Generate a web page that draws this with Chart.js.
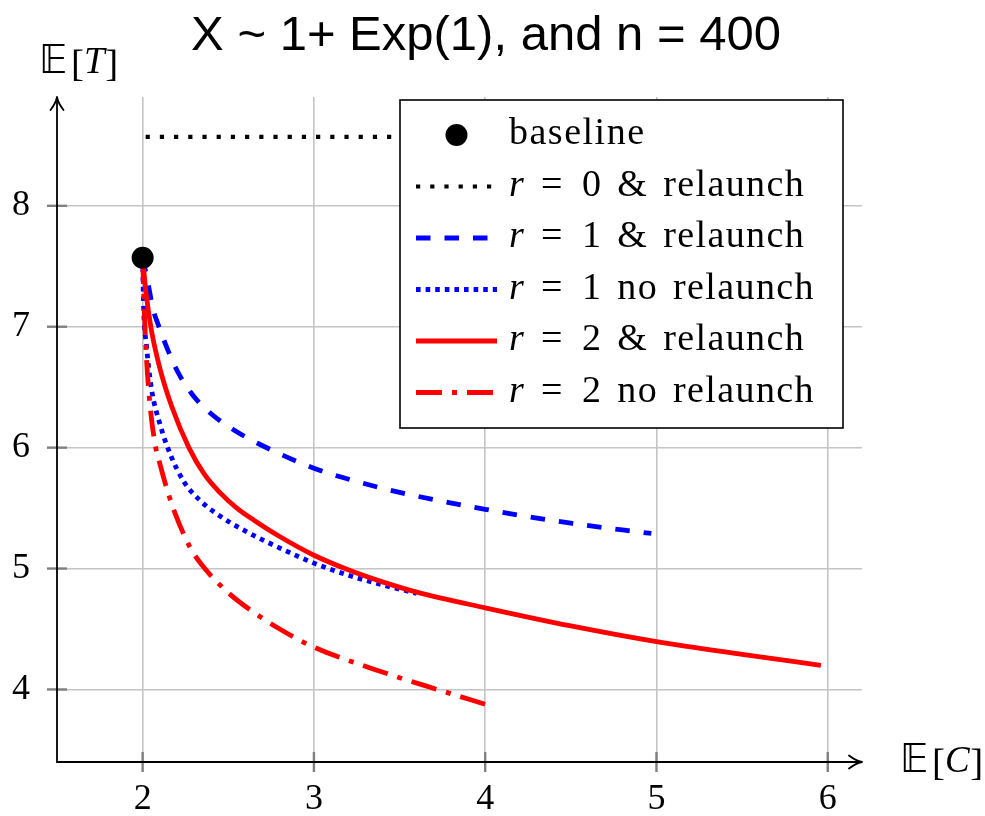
<!DOCTYPE html>
<html>
<head>
<meta charset="utf-8">
<script src="https://cdn.jsdelivr.net/npm/chart.js@4.4.1/dist/chart.umd.min.js"></script>
<style>
  html, body { margin: 0; padding: 0; background: #ffffff; }
  #wrap { width: 985px; height: 816px; position: relative; }
</style>
</head>
<body>
<div id="wrap"><canvas id="chart"></canvas></div>
<script>
// ---- data ----
const chartTitle = 'X ~ 1+ Exp(1), and n = 400';
const xTicks = [2, 3, 4, 5, 6];
const yTicks = [4, 5, 6, 7, 8];

const baselineX = [2];
const baselineY = [7.57];

// r = 0 & relaunch
const r0RelaunchX = [2, 4];
const r0RelaunchY = [8.57, 8.57];

// r = 1 & relaunch
const r1RelaunchX = [2.0, 2.03, 2.06, 2.09, 2.135, 2.2, 2.29, 2.40, 2.54, 2.68, 3.0, 3.25, 3.5, 4.0, 4.5, 4.97];
const r1RelaunchY = [7.57, 7.37, 7.15, 7.02, 6.85, 6.64, 6.44, 6.28, 6.14, 6.03, 5.83, 5.72, 5.63, 5.49, 5.375, 5.29];

// r = 1 no relaunch
const r1NoRelaunchX = [2.0, 2.006, 2.022, 2.05, 2.1, 2.16, 2.24, 2.33, 2.43, 2.6, 2.8, 3.0, 3.2, 3.4, 3.6];
const r1NoRelaunchY = [7.57, 7.15, 6.85, 6.5, 6.2, 5.95, 5.72, 5.57, 5.455, 5.31, 5.17, 5.045, 4.945, 4.865, 4.795];

// r = 2 & relaunch
const r2RelaunchX = [2.0, 2.02, 2.05, 2.1, 2.17, 2.27, 2.36, 2.45, 2.55, 2.65, 2.8, 3.0, 3.2, 3.4, 3.6, 4.0, 4.5, 5.0, 5.5, 5.96];
const r2RelaunchY = [7.57, 7.28, 6.98, 6.66, 6.34, 6.0, 5.78, 5.63, 5.5, 5.40, 5.265, 5.11, 4.99, 4.89, 4.805, 4.675, 4.525, 4.395, 4.29, 4.2];

// r = 2 no relaunch
const r2NoRelaunchX = [2.0, 2.008, 2.02, 2.04, 2.07, 2.10, 2.15, 2.19, 2.276, 2.363, 2.5, 2.626, 2.8, 3.0, 3.345, 3.72, 4.006];
const r2NoRelaunchY = [7.57, 7.2, 6.8, 6.4, 6.05, 5.87, 5.62, 5.455, 5.178, 5.0, 4.8, 4.66, 4.5, 4.35, 4.17, 4.0, 3.875];

const seriesLabels = ['baseline', 'r = 0 & relaunch', 'r = 1 & relaunch', 'r = 1 no relaunch', 'r = 2 & relaunch', 'r = 2 no relaunch'];

const toPoints = (xs, ys) => xs.map((x, i) => ({ x, y: ys[i] }));

const BLUE = '#0000ff';
const RED = '#ff0000';
const LW = 4.8;

const lineDefaults = {
  showLine: true,
  pointRadius: 0,
  pointHoverRadius: 0,
  borderWidth: LW,
  borderCapStyle: 'butt',
  borderJoinStyle: 'round',
  cubicInterpolationMode: 'monotone',
  fill: false
};

const datasets = [
  { label: seriesLabels[0], data: toPoints(baselineX, baselineY), showLine: false,
    pointRadius: 11, pointHoverRadius: 11, backgroundColor: '#000', borderColor: '#000', borderWidth: 0, order: 0 },
  { ...lineDefaults, label: seriesLabels[1], data: toPoints(r0RelaunchX, r0RelaunchY),
    borderColor: '#000', borderWidth: 4.2, borderDash: [4.2, 10], borderDashOffset: -3, order: 6 },
  { ...lineDefaults, label: seriesLabels[2], data: toPoints(r1RelaunchX, r1RelaunchY),
    borderColor: BLUE, borderDash: [14.5, 14], order: 5 },
  { ...lineDefaults, label: seriesLabels[3], data: toPoints(r1NoRelaunchX, r1NoRelaunchY),
    borderColor: BLUE, borderDash: [4.6, 5], order: 4 },
  { ...lineDefaults, label: seriesLabels[4], data: toPoints(r2RelaunchX, r2RelaunchY),
    borderColor: RED, order: 3 },
  { ...lineDefaults, label: seriesLabels[5], data: toPoints(r2NoRelaunchX, r2NoRelaunchY),
    borderColor: RED, borderDash: [26, 10, 5, 10], order: 2 }
];

const SERIF = '"Liberation Serif", "DejaVu Serif", serif';
const MATHBB = '"DejaVu Sans", "DejaVu Serif", "Noto Sans", sans-serif';

// draws "𝔼 [ v ]" with an italic variable
function drawExpectation(ctx, v, x, baseline, size) {
  ctx.save();
  ctx.fillStyle = '#000';
  ctx.textBaseline = 'alphabetic';
  ctx.textAlign = 'left';
  ctx.font = `${size * 1.05}px ${MATHBB}`;
  ctx.fillText('𝔼', x, baseline);
  let cx = x + ctx.measureText('𝔼').width + size * 0.1;
  ctx.font = `${size * 1.05}px ${SERIF}`;
  ctx.fillText('[', cx, baseline + size * 0.07);
  cx += ctx.measureText('[').width;
  ctx.font = `italic ${size}px ${SERIF}`;
  ctx.fillText(v, cx, baseline);
  cx += ctx.measureText(v).width + size * 0.02;
  ctx.font = `${size * 1.05}px ${SERIF}`;
  ctx.fillText(']', cx, baseline + size * 0.07);
  ctx.restore();
}

function arrowHead(ctx, tipX, tipY, dir) {
  const back = 13, half = 6.5;
  ctx.beginPath();
  if (dir === 'up') {
    ctx.moveTo(tipX - half, tipY + back);
    ctx.quadraticCurveTo(tipX - 1, tipY + back * 0.45, tipX, tipY);
    ctx.quadraticCurveTo(tipX + 1, tipY + back * 0.45, tipX + half, tipY + back);
  } else {
    ctx.moveTo(tipX - back, tipY - half);
    ctx.quadraticCurveTo(tipX - back * 0.45, tipY - 1, tipX, tipY);
    ctx.quadraticCurveTo(tipX - back * 0.45, tipY + 1, tipX - back, tipY + half);
  }
  ctx.stroke();
}

const axesPlugin = {
  id: 'arrowAxes',
  beforeDatasetsDraw(chart) {
    const { ctx, chartArea: a, scales } = chart;
    ctx.save();
    // tick marks
    ctx.strokeStyle = '#808080';
    ctx.lineWidth = 2.4;
    xTicks.forEach(v => {
      const px = scales.x.getPixelForValue(v);
      ctx.beginPath(); ctx.moveTo(px, a.bottom - 10); ctx.lineTo(px, a.bottom + 10); ctx.stroke();
    });
    yTicks.forEach(v => {
      const py = scales.y.getPixelForValue(v);
      ctx.beginPath(); ctx.moveTo(a.left - 10, py); ctx.lineTo(a.left + 10, py); ctx.stroke();
    });
    // axis lines with arrows
    ctx.strokeStyle = '#000';
    ctx.lineWidth = 1.8;
    ctx.lineCap = 'butt';
    ctx.beginPath();
    ctx.moveTo(a.left, a.top + 1);
    ctx.lineTo(a.left, a.bottom);
    ctx.lineTo(a.right - 1, a.bottom);
    ctx.stroke();
    ctx.lineJoin = 'round';
    ctx.lineCap = 'round';
    arrowHead(ctx, a.left, a.top, 'up');
    arrowHead(ctx, a.right, a.bottom, 'right');
    ctx.restore();
  },
  afterDraw(chart) {
    const { ctx } = chart;
    ctx.save();
    // title
    ctx.fillStyle = '#000';
    ctx.font = '49px "Liberation Sans", Arial, sans-serif';
    ctx.textAlign = 'center';
    ctx.textBaseline = 'alphabetic';
    ctx.fillText(chartTitle, 486, 50);
    // axis labels
    drawExpectation(ctx, 'T', 39, 73, 37);
    drawExpectation(ctx, 'C', 900, 772, 37);

    // legend box
    const box = { left: 400, top: 100, right: 843, bottom: 428 };
    ctx.fillStyle = '#fff';
    ctx.fillRect(box.left, box.top, box.right - box.left, box.bottom - box.top);
    ctx.strokeStyle = '#000';
    ctx.lineWidth = 1.6;
    ctx.strokeRect(box.left, box.top, box.right - box.left, box.bottom - box.top);

    const rowY0 = 135, rowStep = 51.5;
    const sampleL = 416, sampleR = 497, textX = 509;
    datasets.forEach((ds, i) => {
      const y = rowY0 + i * rowStep;
      if (i === 0) {
        ctx.beginPath();
        ctx.fillStyle = '#000';
        ctx.arc((sampleL + sampleR) / 2, y, 11, 0, Math.PI * 2);
        ctx.fill();
      } else {
        ctx.save();
        ctx.strokeStyle = ds.borderColor;
        ctx.lineWidth = ds.borderWidth;
        ctx.lineCap = 'butt';
        ctx.setLineDash(ds.borderDash || []);
        ctx.beginPath();
        ctx.moveTo(sampleL, y);
        ctx.lineTo(sampleR, y);
        ctx.stroke();
        ctx.restore();
      }
      const label = ds.label;
      ctx.fillStyle = '#000';
      ctx.textAlign = 'left';
      ctx.textBaseline = 'alphabetic';
      const base = y + 9;
      if (i === 0) {
        ctx.font = `38px ${SERIF}`;
        ctx.letterSpacing = '1.5px';
        ctx.fillText(label, textX, base);
        ctx.letterSpacing = '0px';
      } else {
        // "r = k ..." : italic variable, relation sign, then the words
        const parts = label.split(' ');
        ctx.font = `italic 38px ${SERIF}`;
        ctx.fillText(parts[0], textX, base);
        ctx.font = `38px ${SERIF}`;
        ctx.fillText(parts[1], textX + 32, base);
        ctx.letterSpacing = '1.4px';
        ctx.wordSpacing = '4px';
        ctx.fillText(parts.slice(2).join(' '), textX + 73, base);
        ctx.letterSpacing = '0px';
        ctx.wordSpacing = '0px';
      }
    });
    ctx.restore();
  }
};

new Chart(document.getElementById('chart'), {
  type: 'scatter',
  data: { datasets },
  plugins: [axesPlugin],
  options: {
    responsive: true,
    maintainAspectRatio: false,
    animation: false,
    events: [],
    layout: { padding: { top: 97, right: 123, bottom: 0, left: 0 } },
    plugins: {
      legend: { display: false },
      title: { display: false },
      tooltip: { enabled: false }
    },
    scales: {
      x: {
        type: 'linear',
        min: 1.5,
        max: 6.2,
        afterBuildTicks: s => { s.ticks = xTicks.map(v => ({ value: v })); },
        afterFit: s => { s.height = 54; },
        grid: { color: '#c4c4c4', lineWidth: 1.6, drawTicks: false },
        border: { display: false },
        ticks: { color: '#000', font: { family: SERIF, size: 36 }, padding: 16, maxRotation: 0 }
      },
      y: {
        type: 'linear',
        min: 3.4,
        max: 8.9,
        afterBuildTicks: s => { s.ticks = yTicks.map(v => ({ value: v })); },
        afterFit: s => { s.width = 57; },
        grid: { color: '#c4c4c4', lineWidth: 1.6, drawTicks: false },
        border: { display: false },
        ticks: { color: '#000', font: { family: SERIF, size: 36 }, padding: 27 }
      }
    }
  }
});
</script>
</body>
</html>
